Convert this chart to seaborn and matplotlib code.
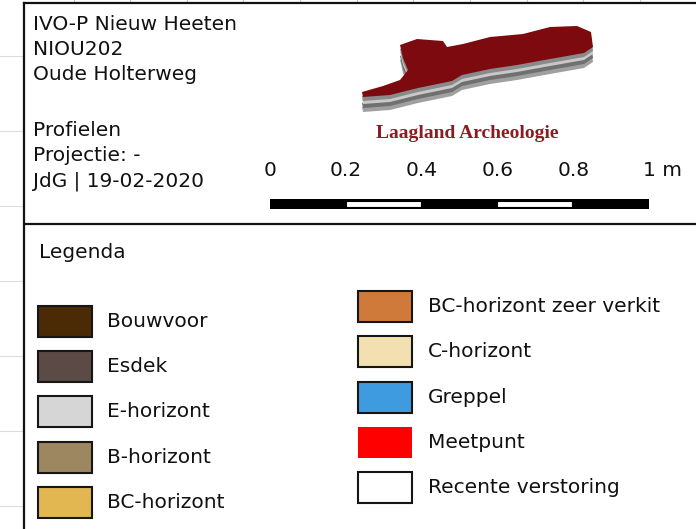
import matplotlib
matplotlib.use("Agg")
import matplotlib.pyplot as plt
from matplotlib.patches import Rectangle, Polygon
import seaborn as sns

# ---------------- data ----------------
header_lines = ["IVO-P Nieuw Heeten", "NIOU202", "Oude Holterweg", "", "Profielen",
                "Projectie: -", "JdG | 19-02-2020"]
logo_text = "Laagland Archeologie"
scale_ticks = [0, 0.2, 0.4, 0.6, 0.8, 1.0]
scale_labels = ["0", "0.2", "0.4", "0.6", "0.8", "1 m"]
legend_title = "Legenda"
left_labels = ["Bouwvoor", "Esdek", "E-horizont", "B-horizont", "BC-horizont"]
left_colors = ["#4b2a06", "#5b4a46", "#d6d6d6", "#9c8760", "#e2b752"]
right_labels = ["BC-horizont zeer verkit", "C-horizont", "Greppel", "Meetpunt",
                "Recente verstoring"]
right_colors = ["#cf7a3a", "#f2e0b0", "#3f9be0", "#ff0000", "#ffffff"]
right_edges = [True, True, True, False, True]

# ---------------- figure ----------------
sns.set_theme(style="white")
plt.rcParams["font.family"] = ["DejaVu Sans"]
W, H = 696, 529
fig = plt.figure(figsize=(W / 100, H / 100), dpi=100)
ax = fig.add_axes([0, 0, 1, 1])
ax.set_xlim(0, W)
ax.set_ylim(H, 0)
ax.axis("off")

# faint background grid at left strip and top ticks
for y in [56, 131, 206, 281, 356, 431, 506]:
    ax.plot([0, 23], [y, y], color="#dcdcdc", lw=0.8, zorder=1)
for x in [74, 130, 187, 243, 300, 357, 413, 470, 527, 583, 640]:
    ax.plot([x, x], [0, 2], color="#c8c8c8", lw=0.8, zorder=1)

# main frame
ax.plot([24, 24], [2.5, H + 5], color="#111111", lw=1.6, zorder=5, solid_capstyle="projecting")
ax.plot([24, W + 5], [2.5, 2.5], color="#111111", lw=1.6, zorder=5, solid_capstyle="projecting")
ax.plot([24, W + 5], [223.5, 223.5], color="#111111", lw=1.6, zorder=5)

# header text
fs = 14.5
for i, line in enumerate(header_lines):
    if line:
        ax.text(33, 24 + 25.5 * i + (4 if i >= 4 else 0), line, fontsize=fs,
                va="center", ha="left", color="#111111")

# logo
red = [(362, 92), (383, 86), (400, 80), (408, 70), (403, 58), (400, 45), (417, 39),
       (443, 41), (447, 47), (463, 44), (490, 37), (523, 34), (550, 27), (577, 26),
       (591, 32), (593, 47), (584, 53), (550, 59), (517, 65), (490, 69), (462, 75),
       (452, 81), (418, 88), (390, 95), (363, 97)]
for dy, c in [(15, "#a0a0a0"), (11, "#707070"), (7, "#c8c8c8"), (4, "#8a8a8a")]:
    ax.add_patch(Polygon([(x, y + dy) for x, y in red], closed=True, fc=c, ec="none", zorder=2))
ax.add_patch(Polygon(red, closed=True, fc="#7d0a0f", ec="none", zorder=3))
ax.text(467, 133, logo_text, fontsize=14, fontweight="bold", family="Liberation Serif",
        color="#8b1c22", ha="center", va="center")

# scale bar (own axes in metres)
x0, x1 = 270, 649
sax = fig.add_axes([x0 / W, 1 - 209 / H, (x1 - x0) / W, 10 / H])
sax.set_xlim(0, 1)
sax.set_ylim(-0.5, 0.5)
sax.axis("off")
seg_starts = scale_ticks[:-1]
seg_colors = ["black" if i % 2 == 0 else "white" for i in range(len(seg_starts))]
sax.barh([0] * len(seg_starts), [0.2] * len(seg_starts), left=seg_starts, height=0.7,
         color=seg_colors, edgecolor="black", linewidth=1.5)
sax.barh([0], [1.0], left=0, height=1.0, color="none", edgecolor="black", linewidth=1.5)
for t, lab in zip(scale_ticks, scale_labels):
    px = x0 + t * (x1 - x0)
    if lab.endswith("m"):
        ax.text(px - 6, 171, lab, fontsize=fs, ha="left", va="center", color="#111111")
    else:
        ax.text(px, 171, lab, fontsize=fs, ha="center", va="center", color="#111111")

# legend
ax.text(39, 253, legend_title, fontsize=fs, ha="left", va="center", color="#111111")
sw, sh = 54, 31
for i, (lab, col) in enumerate(zip(left_labels, left_colors)):
    top = 306 + 45.2 * i
    ax.add_patch(Rectangle((38, top), sw, sh, fc=col, ec="#161616", lw=1.5, zorder=4))
    ax.text(107, top + sh / 2, lab, fontsize=fs, ha="left", va="center", color="#111111")
for i, (lab, col, e) in enumerate(zip(right_labels, right_colors, right_edges)):
    top = 291 + 45.3 * i
    ax.add_patch(Rectangle((358, top), sw, sh, fc=col, ec="#161616" if e else "none",
                           lw=1.5, zorder=4))
    ax.text(428, top + sh / 2, lab, fontsize=fs, ha="left", va="center", color="#111111")

fig.savefig("out.png", dpi=100)
